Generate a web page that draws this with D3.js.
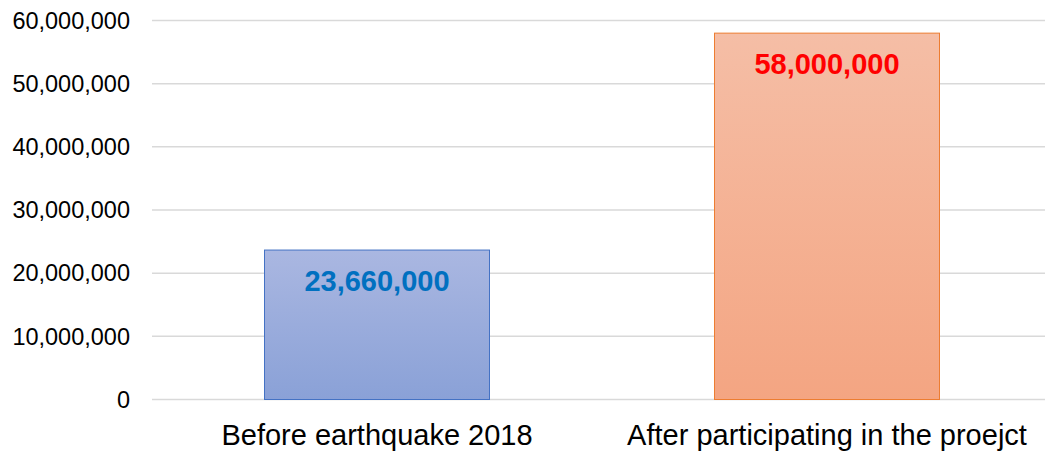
<!DOCTYPE html>
<html>
<head>
<meta charset="utf-8">
<script src="https://d3js.org/d3.v7.min.js"></script>
<style>
  body { margin: 0; background: #fff; }
  svg text { font-family: "Liberation Sans", Arial, sans-serif; }
</style>
</head>
<body>
<div id="chart"></div>
<script>
// data
var categories = ["Before earthquake 2018", "After participating in the proejct"];
var values = [23660000, 58000000];
var yTicks = [0, 10000000, 20000000, 30000000, 40000000, 50000000, 60000000];

var W = 1045, H = 452;

var svg = d3.select("#chart").append("svg")
  .attr("width", W)
  .attr("height", H);

// gradients for the two bars
var defs = svg.append("defs");
var fills = [
  {id: "gBlue", top: "#aab7e1", bottom: "#8aa1d7", stroke: "#4472c4", label: "#0070c0"},
  {id: "gOrange", top: "#f5bea6", bottom: "#f4a582", stroke: "#ed7d31", label: "#ff0000"}
];
fills.forEach(function(f) {
  var g = defs.append("linearGradient")
    .attr("id", f.id)
    .attr("x1", 0).attr("y1", 0).attr("x2", 0).attr("y2", 1);
  g.append("stop").attr("offset", "0%").attr("stop-color", f.top);
  g.append("stop").attr("offset", "100%").attr("stop-color", f.bottom);
});

var x = d3.scaleBand()
  .domain(categories)
  .range([152, 1052])
  .paddingInner(0.5)
  .paddingOuter(0.25);

var y = d3.scaleLinear()
  .domain([0, 60000000])
  .range([399.5, 20.5]);

// gridlines
svg.append("g")
  .selectAll("line")
  .data(yTicks)
  .enter()
  .append("line")
    .attr("x1", 152)
    .attr("x2", W)
    .attr("y1", function(d) { return y(d); })
    .attr("y2", function(d) { return y(d); })
    .attr("stroke", "#d9d9d9")
    .attr("stroke-width", 1.5);

// y axis labels
var fmt = d3.format(",");
svg.append("g")
  .selectAll("text")
  .data(yTicks)
  .enter()
  .append("text")
    .attr("x", 130)
    .attr("y", function(d) { return y(d); })
    .attr("dy", "0.35em")
    .attr("text-anchor", "end")
    .style("font-size", "23.5px")
    .style("fill", "#000")
    .text(function(d) { return fmt(d); });

// bars
svg.append("g")
  .selectAll("rect")
  .data(values)
  .enter()
  .append("rect")
    .attr("x", function(d, i) { return x(categories[i]); })
    .attr("y", function(d) { return y(d); })
    .attr("width", x.bandwidth())
    .attr("height", function(d) { return y(0) - y(d); })
    .attr("fill", function(d, i) { return "url(#" + fills[i].id + ")"; })
    .attr("stroke", function(d, i) { return fills[i].stroke; })
    .attr("stroke-width", 1);

// value labels inside bars
svg.append("g")
  .selectAll("text")
  .data(values)
  .enter()
  .append("text")
    .attr("x", function(d, i) { return x(categories[i]) + x.bandwidth() / 2; })
    .attr("y", function(d) { return y(d) + 40.5; })
    .attr("text-anchor", "middle")
    .style("font-size", "29px")
    .style("font-weight", "bold")
    .style("fill", function(d, i) { return fills[i].label; })
    .text(function(d) { return fmt(d); });

// category labels
svg.append("g")
  .selectAll("text")
  .data(categories)
  .enter()
  .append("text")
    .attr("x", function(d) { return x(d) + x.bandwidth() / 2; })
    .attr("y", 445)
    .attr("text-anchor", "middle")
    .style("font-size", "29px")
    .style("fill", "#000")
    .text(function(d) { return d; });
</script>
</body>
</html>
